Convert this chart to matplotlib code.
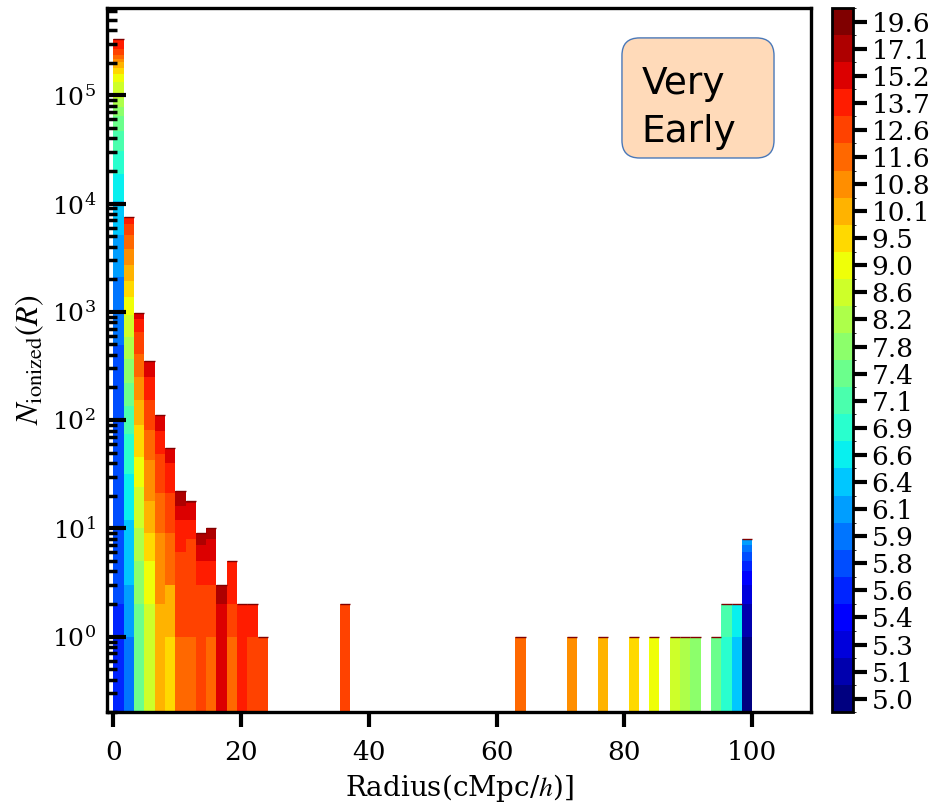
import numpy as np
import matplotlib
matplotlib.use('Agg')
import matplotlib.pyplot as plt
from matplotlib.colors import BoundaryNorm
from matplotlib.cm import ScalarMappable
from matplotlib.patches import FancyBboxPatch
from matplotlib.ticker import NullFormatter

plt.rcParams['font.family'] = 'DejaVu Serif'
plt.rcParams['mathtext.fontset'] = 'stix'

# redshift of each snapshot (bottom of the stack -> top)
redshifts = [5.0, 5.1, 5.3, 5.4, 5.6, 5.8, 5.9, 6.1, 6.4, 6.6, 6.9, 7.1, 7.4,
             7.8, 8.2, 8.6, 9.0, 9.5, 10.1, 10.8, 11.6, 12.6, 13.7, 15.2, 17.1, 19.6]

# radius (cMpc/h) of the small-bubble bins
r_small = [0.81, 2.42, 4.03, 5.65, 7.26, 8.87, 10.48, 12.10, 13.71, 15.32,
           16.94, 18.55, 20.16, 21.77, 23.39]

# number of ionized regions in each small bin, one value per redshift
n_r00 = [0, 0, 0, 0, 2, 492, 1620, 3030, 5460, 8200, 11900, 15600, 17400,
         14100, 16400, 38300, 25500, 20400, 22600, 16000, 19500, 32500, 61000, 0, 0, 0]
n_r01 = [0, 0, 0, 0, 0, 0, 1, 2, 9, 20, 42, 61, 87,
         143, 225, 346, 437, 559, 784, 1104, 1320, 1350, 990, 0, 0, 0]
n_r02 = [0, 0, 0, 0, 0, 0, 0, 0, 0, 0, 0, 0, 2,
         3, 5, 14, 22, 44, 63, 99, 156, 240, 212, 111, 0, 0]
n_r03 = [0, 0, 0, 0, 0, 0, 0, 0, 0, 0, 0, 0, 0,
         0, 0, 2, 3, 4, 9, 25, 38, 72, 99, 100, 0, 0]
n_r04 = [0, 0, 0, 0, 0, 0, 0, 0, 0, 0, 0, 0, 0,
         0, 0, 0, 0, 0, 2, 7, 12, 28, 31, 31, 0, 0]
n_r05 = [0, 0, 0, 0, 0, 0, 0, 0, 0, 0, 0, 0, 0,
         0, 0, 0, 0, 1, 2, 0, 6, 12, 19, 15, 0, 0]
n_r06 = [0, 0, 0, 0, 0, 0, 0, 0, 0, 0, 0, 0, 0,
         0, 0, 0, 0, 0, 0, 0, 1, 5, 6, 4, 6, 0]
n_r07 = [0, 0, 0, 0, 0, 0, 0, 0, 0, 0, 0, 0, 0,
         0, 0, 0, 0, 0, 0, 0, 1, 7, 4, 5, 1, 0]
n_r08 = [0, 0, 0, 0, 0, 0, 0, 0, 0, 0, 0, 0, 0,
         0, 0, 0, 0, 0, 0, 0, 0, 3, 2, 2, 2, 0]
n_r09 = [0, 0, 0, 0, 0, 0, 0, 0, 0, 0, 0, 0, 0,
         0, 0, 0, 0, 0, 0, 0, 1, 2, 2, 3, 2, 0]
n_r10 = [0, 0, 0, 0, 0, 0, 0, 0, 0, 0, 0, 0, 0,
         0, 0, 0, 0, 0, 0, 0, 0, 0, 0, 2, 1, 0]
n_r11 = [0, 0, 0, 0, 0, 0, 0, 0, 0, 0, 0, 0, 0,
         0, 0, 0, 0, 0, 0, 0, 1, 1, 3, 0, 0, 0]
n_r12 = [0, 0, 0, 0, 0, 0, 0, 0, 0, 0, 0, 0, 0,
         0, 0, 0, 0, 0, 0, 0, 0, 0, 2, 0, 0, 0]
n_r13 = [0, 0, 0, 0, 0, 0, 0, 0, 0, 0, 0, 0, 0,
         0, 0, 0, 0, 0, 0, 0, 0, 1, 1, 0, 0, 0]
n_r14 = [0, 0, 0, 0, 0, 0, 0, 0, 0, 0, 0, 0, 0,
         0, 0, 0, 0, 0, 0, 0, 0, 1, 0, 0, 0, 0]

# the large region of each snapshot (radius, how many)
big_r = [99.2, 99.2, 99.2, 99.2, 99.2, 99.2, 99.2, 99.2, 97.6, 97.6, 96.0, 96.0, 94.4,
         91.1, 89.5, 87.9, 84.7, 81.5, 76.6, 71.8, 63.7, 36.3, 0, 0, 0, 0]
big_n = [1, 1, 1, 1, 1, 1, 1, 1, 1, 1, 1, 1, 1,
         1, 1, 1, 1, 1, 1, 1, 1, 2, 0, 0, 0, 0]

small = [n_r00, n_r01, n_r02, n_r03, n_r04, n_r05, n_r06, n_r07,
         n_r08, n_r09, n_r10, n_r11, n_r12, n_r13, n_r14]
nz = len(redshifts)
xs, ws = [], []
for i in range(nz):
    x = list(r_small)
    w = [row[i] for row in small]
    if big_n[i] > 0:
        x.append(big_r[i])
        w.append(big_n[i])
    xs.append(x)
    ws.append(w)

edges = np.linspace(0, 100, 63)
cmap = plt.get_cmap('jet', nz)
colors = [cmap(i) for i in range(nz)]

fig = plt.figure(figsize=(9.37, 8.06), dpi=100)
ax = fig.add_axes([0.1142, 0.1163, 0.7513, 0.8738])
n, b, p = ax.hist(xs, bins=edges, weights=ws, stacked=True, color=colors, log=True)
# thin dark cap on top of each stack
tot = n[-1]
keep = tot > 0
ax.hlines(tot[keep], edges[:-1][keep], edges[1:][keep], color=cmap(nz - 1), lw=1)

ax.set_xlim(-1, 109.2)
ax.set_ylim(0.2, 6.4e5)

for s in ax.spines.values():
    s.set_linewidth(2.4)
ax.tick_params(axis='y', which='major', direction='in', length=14, width=3,
               labelsize=18, pad=8)
ax.tick_params(axis='y', which='minor', direction='in', length=7, width=2.5)
ax.yaxis.set_minor_formatter(NullFormatter())
ax.tick_params(axis='x', direction='out', length=11, width=3, labelsize=19, pad=9)
ax.set_xticks([0, 20, 40, 60, 80, 100])
ax.set_xlabel(r'Radius(cMpc/$h$)]', fontsize=20, labelpad=5)
ax.set_ylabel(r'$N_{\rm ionized}(R)$', fontsize=23)

box = FancyBboxPatch((0.7315, 0.787), 0.216, 0.1705,
                     boxstyle='round,pad=0,rounding_size=0.025',
                     transform=ax.transAxes, facecolor='peachpuff',
                     edgecolor='#4a78b8', linewidth=1, zorder=4)
ax.add_patch(box)
ax.text(0.759, 0.917, 'Very\nEarly', transform=ax.transAxes, fontsize=27,
        family='DejaVu Sans', ha='left', va='top', linespacing=1.4, zorder=5)

cax = fig.add_axes([0.8876, 0.1163, 0.0224, 0.8738])
sm = ScalarMappable(norm=BoundaryNorm(np.arange(nz + 1) - 0.5, nz), cmap=cmap)
cb = fig.colorbar(sm, cax=cax, ticks=range(nz))
cb.ax.set_yticklabels(['%.1f' % z for z in redshifts])
cb.ax.tick_params(labelsize=19, length=10, width=3)
cb.outline.set_linewidth(2)

fig.savefig('out.png', dpi=100)
